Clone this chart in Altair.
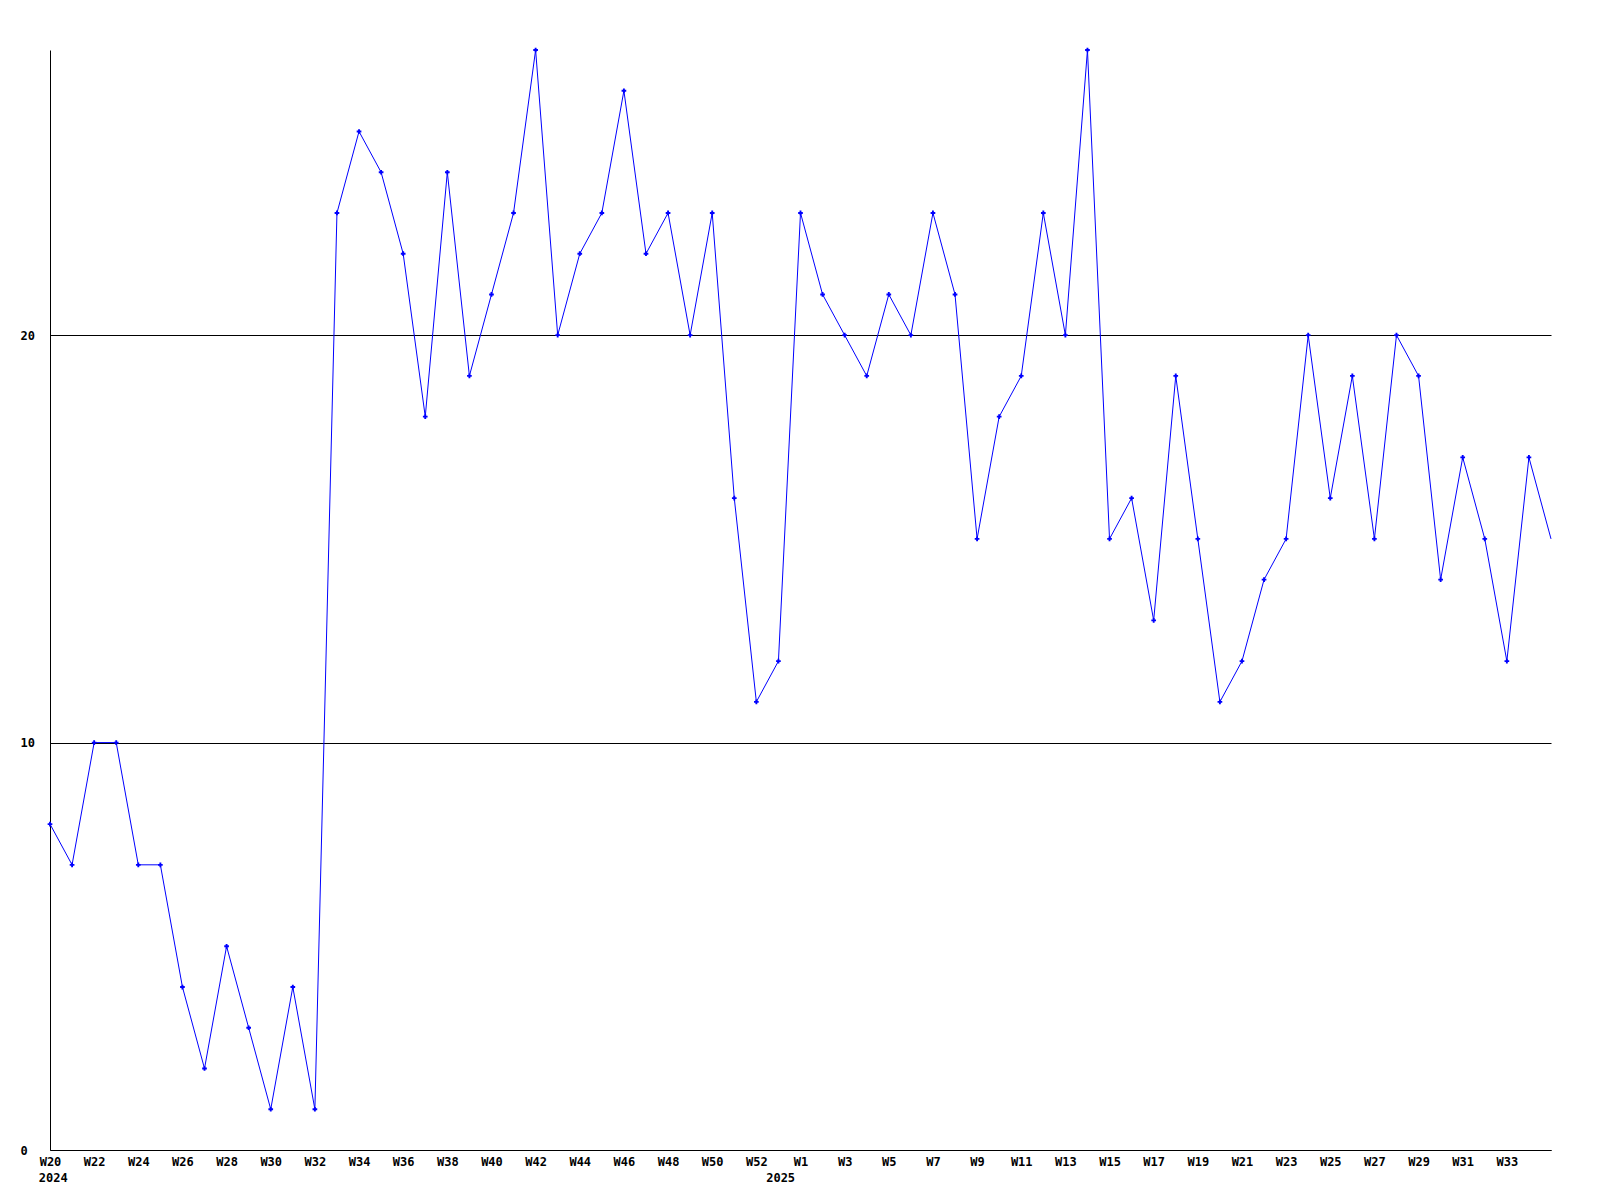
import altair as alt
import pandas as pd

# Weekly values: 2024 W20..W52, an extra week at year end, 2025 W1..W35
values_2024 = [8, 7, 10, 10, 7, 7, 4, 2, 5, 3, 1, 4, 1, 23, 25, 24, 22, 18, 24, 19,
               21, 23, 27, 20, 22, 23, 26, 22, 23, 20, 23, 16, 11]
values_yearend = [12]
values_2025 = [23, 21, 20, 19, 21, 20, 23, 21, 15, 18, 19, 23, 20, 27, 15, 16, 13, 19,
               15, 11, 12, 14, 15, 20, 16, 19, 15, 20, 19, 14, 17, 15, 12, 17, 15]

week_labels = ([f"W{w}" for w in range(20, 53)] + ["W53"] +
               [f"W{w}" for w in range(1, 36)])
tick_index = list(range(0, 33, 2)) + list(range(34, 67, 2))
years = ["2024", "2025"]
year_pos = [0.15, 33.1]
y_ticks = [0, 10, 20]

values = values_2024 + values_yearend + values_2025
df = pd.DataFrame({"i": list(range(len(values))), "v": values, "w": week_labels})
ydf = pd.DataFrame({"year": years, "pos": year_pos})

W, H = 1501, 1100
FONT = "DejaVu Sans Mono"
label_arr = "[" + ",".join(f"'{s}'" for s in week_labels) + "]"

xscale = alt.Scale(domain=[0, len(values) - 1], nice=False, zero=False)
yscale = alt.Scale(domain=[0, 27], nice=False)

x_axis = alt.Axis(values=tick_index, labelExpr=f"{label_arr}[datum.value]",
                  title=None, grid=False, ticks=False, domain=True, domainColor="black",
                  labelFont=FONT, labelFontWeight="bold", labelFontSize=12,
                  labelColor="black", labelPadding=11, labelBaseline="middle",
                  labelOverlap=False, labelFlush=False)
y_axis = alt.Axis(values=y_ticks, title=None, grid=True, gridColor="black",
                  gridOpacity=1, gridWidth=1, ticks=False, domain=True,
                  domainColor="black", labelFont=FONT, labelFontWeight="bold",
                  labelFontSize=12, labelColor="black", labelAlign="left",
                  labelPadding=30, labelBaseline="middle")

line = alt.Chart(df).mark_line(color="#0000ff", strokeWidth=1).encode(
    x=alt.X("i:Q", scale=xscale, axis=x_axis),
    y=alt.Y("v:Q", scale=yscale, axis=y_axis),
)
pts = alt.Chart(df).transform_filter(f"datum.i < {len(values) - 1}").mark_point(
    shape="cross", filled=True, color="#0000ff", size=22, opacity=1
).encode(x=alt.X("i:Q", scale=xscale), y=alt.Y("v:Q", scale=yscale))

yr = alt.Chart(ydf).mark_text(font=FONT, fontWeight="bold", fontSize=12,
                              color="black", baseline="middle", align="center").encode(
    x=alt.X("pos:Q", scale=xscale),
    y=alt.value(H + 27.5),
    text="year:N",
)

chart = alt.layer(line, pts, yr).properties(
    width=W, height=H,
    autosize=alt.AutoSizeParams(type="none"),
    padding={"left": 42, "top": 42, "right": 20, "bottom": 40},
).configure_view(stroke=None)

chart.save("out.html", embed_options={"renderer": "svg", "actions": False})
